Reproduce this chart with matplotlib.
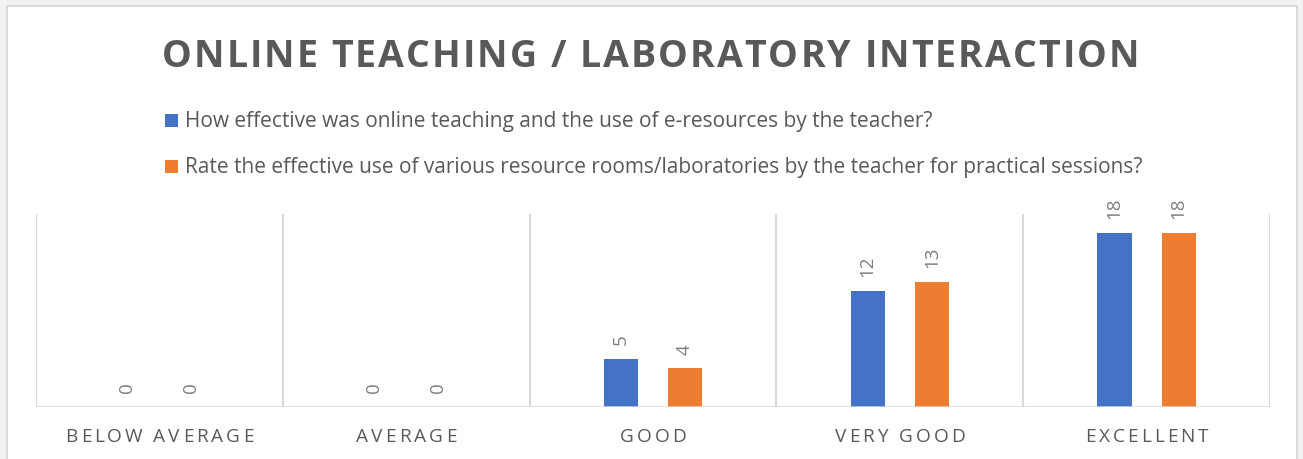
import matplotlib
matplotlib.use('Agg')
import matplotlib.pyplot as plt
from matplotlib.font_manager import FontProperties, findfont, get_font
from matplotlib.patches import Rectangle
import numpy as np

# ---------------- data ----------------
title = 'ONLINE TEACHING / LABORATORY INTERACTION'
categories = ['BELOW AVERAGE', 'AVERAGE', 'GOOD', 'VERY GOOD', 'EXCELLENT']
series1_name = 'How effective was online teaching and the use of e-resources by the teacher?'
series2_name = 'Rate the effective use of various resource rooms/laboratories by the teacher for practical sessions?'
series1 = [0, 0, 5, 12, 18]
series2 = [0, 0, 4, 13, 18]

# ---------------- style ----------------
W, H = 1303, 459
DPI = 100
BLUE = '#4472C4'
ORANGE = '#ED7D31'
GRID = '#D9D9D9'
TXT = '#595959'
LBL = '#7F7F7F'
FONT = 'Open Sans'

fig = plt.figure(figsize=(W / DPI, H / DPI), dpi=DPI, facecolor='#F2F2F2')

# chart area (white with light border)
fig.patches.append(Rectangle((7 / W, -0.02), (1297 - 7) / W, (H - 6) / H + 0.02,
                             transform=fig.transFigure, facecolor='white',
                             edgecolor='#D4D4D4', lw=1.2, zorder=-5))


def advances(s, prop):
    font = get_font(findfont(prop))
    font.set_size(prop.get_size_in_points(), DPI)
    out = []
    for c in s:
        g = font.load_char(ord(c))
        out.append(g.linearHoriAdvance / 65536)
    return out


def spaced_text(s, x_left, baseline_px, prop, color, spacing):
    adv = advances(s, prop)
    x = x_left
    for c, a in zip(s, adv):
        if c != ' ':
            fig.text(x / W, (H - baseline_px) / H, c, fontproperties=prop,
                     color=color, ha='left', va='baseline')
        x += a + spacing
    return x


def natural_width(s, prop):
    return sum(advances(s, prop))


# ---------------- title ----------------
tprop = FontProperties(family=FONT, weight='bold', size=27)
nat = natural_width(title, tprop)
sp = (1139 - 162 - nat) / (len(title) - 1)
spaced_text(title, 162, 67, tprop, TXT, sp)

# ---------------- legend ----------------
lprop = FontProperties(family=FONT, size=14)
w2 = natural_width(series2_name, lprop)
lsize = 14 * (1148 - 185) / w2
lprop = FontProperties(family=FONT, size=lsize)
for name, col, base in [(series1_name, BLUE, 127), (series2_name, ORANGE, 173)]:
    fig.patches.append(Rectangle((165 / W, (H - base) / H), 13 / W, 13 / H,
                                 transform=fig.transFigure, facecolor=col,
                                 edgecolor='none', zorder=2))
    fig.text(185 / W, (H - base) / H, name, fontproperties=lprop, color=TXT,
             ha='left', va='baseline')

# ---------------- axes ----------------
left, right, top, bottom = 36, 1270, 214, 407
ax = fig.add_axes([left / W, (H - bottom) / H, (right - left) / W, (bottom - top) / H])
ax.set_facecolor('none')
ax.set_zorder(1)
for s in ax.spines.values():
    s.set_visible(False)
ax.set_xlim(-0.5, len(categories) - 0.5)
ax.set_ylim(0, 20)
ax.set_xticks([])
ax.set_yticks([])

x = np.arange(len(categories))
for b in np.arange(-0.5, len(categories), 1.0):
    ax.axvline(b, color=GRID, lw=1.5, zorder=1)
ax.axhline(0, color=GRID, lw=1.8, zorder=3)

off = 0.13
bw = 0.138
b1 = ax.bar(x - off, series1, width=bw, color=BLUE, lw=0, zorder=2)
b2 = ax.bar(x + off, series2, width=bw, color=ORANGE, lw=0, zorder=2)

dprop = FontProperties(family=FONT, size=13.5)
for bars, vals in [(b1, series1), (b2, series2)]:
    for r, v in zip(bars, vals):
        ax.annotate(str(v), (r.get_x() + r.get_width() / 2, v),
                    xytext=(0, 10), textcoords='offset points',
                    rotation=90, ha='center', va='bottom',
                    fontproperties=dprop, color=LBL)

# ---------------- category labels ----------------
# solve font size & letter spacing so that the first two labels get their widths
s0 = 13.0
cprop0 = FontProperties(family=FONT, size=s0)
nA = natural_width(categories[0], cprop0)
nB = natural_width(categories[1], cprop0)
tA, tB = 188.0, 100.0
gA, gB = len(categories[0]) - 1, len(categories[1]) - 1
# nA*k + gA*sp = tA ; nB*k + gB*sp = tB
k = (tA * gB - tB * gA) / (nA * gB - nB * gA)
csp = (tA - nA * k) / gA
cprop = FontProperties(family=FONT, size=s0 * k)
cw = (right - left) / len(categories)
for i, c in enumerate(categories):
    tw = natural_width(c, cprop) + csp * (len(c) - 1)
    cx = left + cw * (i + 0.5)
    spaced_text(c, cx - tw / 2, 442, cprop, TXT, csp)

fig.savefig('out.png', dpi=DPI, facecolor=fig.get_facecolor())
